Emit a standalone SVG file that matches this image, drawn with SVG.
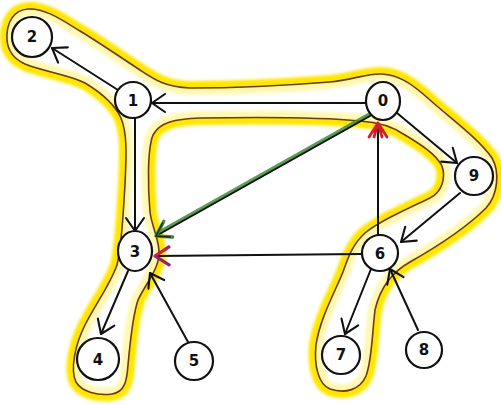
<svg xmlns="http://www.w3.org/2000/svg" width="501" height="405" viewBox="0 0 501 405">
  <style>
    .node circle, .node ellipse { fill: #fff; stroke: #111; stroke-width: 2.2; }
    .node text { font-family: "DejaVu Sans", "Liberation Sans", sans-serif; font-size: 15px; font-weight: bold; fill: #111; text-anchor: middle; dominant-baseline: central; }
    .edge { fill: none; stroke: #111; stroke-width: 2; stroke-linecap: round; }
  </style>
  <defs>
    <filter id="glow" x="-10%" y="-10%" width="120%" height="120%">
      <feGaussianBlur stdDeviation="1.6"/>
    </filter>
    <marker id="arr" viewBox="-17 -11 19 22" refX="0" refY="0" markerWidth="19" markerHeight="22" markerUnits="userSpaceOnUse" orient="auto">
      <path d="M -13,-9 L 0,0 L -13,9" fill="none" stroke="#111" stroke-width="2.1" stroke-linecap="round" stroke-linejoin="round"/>
    </marker>
    <marker id="arr-green" viewBox="-17 -11 19 22" refX="0" refY="0" markerWidth="19" markerHeight="22" markerUnits="userSpaceOnUse" orient="auto">
      <path d="M -14,-9 L 0,0 L -14,9" fill="none" stroke="#3f8a3a" stroke-width="3.4" stroke-linecap="round" stroke-linejoin="round"/>
      <path d="M -12,-8 L 0,0 L -12,8" fill="none" stroke="#1a2a18" stroke-width="1.5" stroke-linecap="round"/>
    </marker>
    <marker id="arr-magenta" viewBox="-17 -11 19 22" refX="0" refY="0" markerWidth="19" markerHeight="22" markerUnits="userSpaceOnUse" orient="auto">
      <path d="M -14,-9 L 0,0 L -14,9" fill="none" stroke="#9a1f7a" stroke-width="3.2" stroke-linecap="round" stroke-linejoin="round"/>
      <path d="M -12,7 L 0,0" fill="none" stroke="#d0203a" stroke-width="2.2" stroke-linecap="round"/>
    </marker>
    <marker id="arr-red" viewBox="-17 -11 19 22" refX="0" refY="0" markerWidth="19" markerHeight="22" markerUnits="userSpaceOnUse" orient="auto">
      <path d="M -14,-9 L 0,0 L -14,9 M -14,-4 L 0,0 L -14,4" fill="none" stroke="#d81a28" stroke-width="2.8" stroke-linecap="round" stroke-linejoin="round"/>
    </marker>
  </defs>

  <rect width="501" height="405" fill="#fff"/>

  <!-- highlighted outline around the main path -->
  <g id="highlight">
    <path id="outline" d="M 7,40 C 6,22 14,10 28,9 C 45,8 62,20 80,31 C 100,43 120,57 140,70 C 155,80 165,87 190,88 C 230,88 280,86 330,82 C 352,80 368,73 382,74 C 398,75 410,82 430,100 C 450,118 478,138 492,158 C 500,172 498,195 486,208 C 468,226 440,245 410,262 C 392,272 380,288 375,310 C 372,335 372,360 366,376 C 360,390 345,394 330,389 C 318,384 314,365 316,345 C 320,318 335,292 343,272 C 348,258 352,245 365,233 C 380,221 405,210 430,198 C 442,192 446,178 442,166 C 436,154 420,144 405,135 C 392,126 378,122 360,121 C 320,117 260,117 200,118 C 175,119 160,122 153,135 C 147,150 148,190 150,212 C 152,228 160,240 159,255 C 158,270 145,285 138,300 C 132,318 130,345 128,365 C 127,380 125,392 112,394 C 98,396 82,392 76,382 C 70,370 75,345 85,325 C 95,305 110,285 117,265 C 122,245 123,215 125,185 C 126,160 128,135 121,118 C 114,103 100,92 85,83 C 70,75 45,72 25,64 C 14,59 8,52 7,40 Z" fill="none" stroke="#ffe600" stroke-width="14" stroke-linejoin="round" filter="url(#glow)"/>
    <path d="M 7,40 C 6,22 14,10 28,9 C 45,8 62,20 80,31 C 100,43 120,57 140,70 C 155,80 165,87 190,88 C 230,88 280,86 330,82 C 352,80 368,73 382,74 C 398,75 410,82 430,100 C 450,118 478,138 492,158 C 500,172 498,195 486,208 C 468,226 440,245 410,262 C 392,272 380,288 375,310 C 372,335 372,360 366,376 C 360,390 345,394 330,389 C 318,384 314,365 316,345 C 320,318 335,292 343,272 C 348,258 352,245 365,233 C 380,221 405,210 430,198 C 442,192 446,178 442,166 C 436,154 420,144 405,135 C 392,126 378,122 360,121 C 320,117 260,117 200,118 C 175,119 160,122 153,135 C 147,150 148,190 150,212 C 152,228 160,240 159,255 C 158,270 145,285 138,300 C 132,318 130,345 128,365 C 127,380 125,392 112,394 C 98,396 82,392 76,382 C 70,370 75,345 85,325 C 95,305 110,285 117,265 C 122,245 123,215 125,185 C 126,160 128,135 121,118 C 114,103 100,92 85,83 C 70,75 45,72 25,64 C 14,59 8,52 7,40 Z" fill="#fff" fill-opacity="0.7" stroke="#6e3a12" stroke-width="1.6" stroke-linejoin="round"/>
  </g>

  <!-- connectors -->
  <g id="edges">
    <path class="edge" d="M 118,90 L 52,48" marker-end="url(#arr)"/>
    <path class="edge" d="M 366,103 L 152,103" marker-end="url(#arr)"/>
    <path class="edge" d="M 135,118 L 135,231" marker-end="url(#arr)"/>
    <path d="M 372,113 L 160,232" fill="none" stroke="#3f8a3a" stroke-width="4.2" stroke-linecap="round" opacity="0.85"/>
    <path class="edge" d="M 370,116 L 156,236" stroke="#141a12" stroke-width="2.2" marker-end="url(#arr-green)"/>
    <path class="edge" d="M 361,254 L 155,256" stroke="#3a1426" stroke-width="2.4" marker-end="url(#arr-magenta)"/>
    <path class="edge" d="M 378,235 L 378,123" stroke="#8e1424" stroke-width="2.2" marker-end="url(#arr-red)"/>
    <path class="edge" d="M 397,113 L 457,163" marker-end="url(#arr)"/>
    <path class="edge" d="M 460,193 L 401,242" marker-end="url(#arr)"/>
    <path class="edge" d="M 128,271 L 101,334" marker-end="url(#arr)"/>
    <path class="edge" d="M 188,342 L 150,273" marker-end="url(#arr)"/>
    <path class="edge" d="M 371,269 L 345,334" marker-end="url(#arr)"/>
    <path class="edge" d="M 418,330 L 390,269" marker-end="url(#arr)"/>
  </g>

  <!-- nodes -->
  <g id="n2" class="node"><ellipse cx="32" cy="37" rx="20" ry="20"/><text x="32" y="37">2</text></g>
  <g id="n1" class="node"><circle cx="133" cy="100" r="18"/><text x="133" y="101">1</text></g>
  <g id="n0" class="node"><ellipse cx="383" cy="101" rx="17" ry="19"/><text x="383" y="101">0</text></g>
  <g id="n9" class="node"><circle cx="474" cy="176" r="19"/><text x="474" y="176">9</text></g>
  <g id="n3" class="node"><ellipse cx="135" cy="251" rx="17" ry="20"/><text x="135" y="252">3</text></g>
  <g id="n6" class="node"><circle cx="380" cy="253" r="18"/><text x="380" y="254">6</text></g>
  <g id="n4" class="node"><circle cx="98" cy="359" r="21"/><text x="98" y="360">4</text></g>
  <g id="n5" class="node"><circle cx="194" cy="361" r="19"/><text x="194" y="361">5</text></g>
  <g id="n7" class="node"><circle cx="341" cy="355" r="19"/><text x="341" y="355">7</text></g>
  <g id="n8" class="node"><circle cx="424" cy="350" r="18"/><text x="424" y="350">8</text></g>
</svg>
